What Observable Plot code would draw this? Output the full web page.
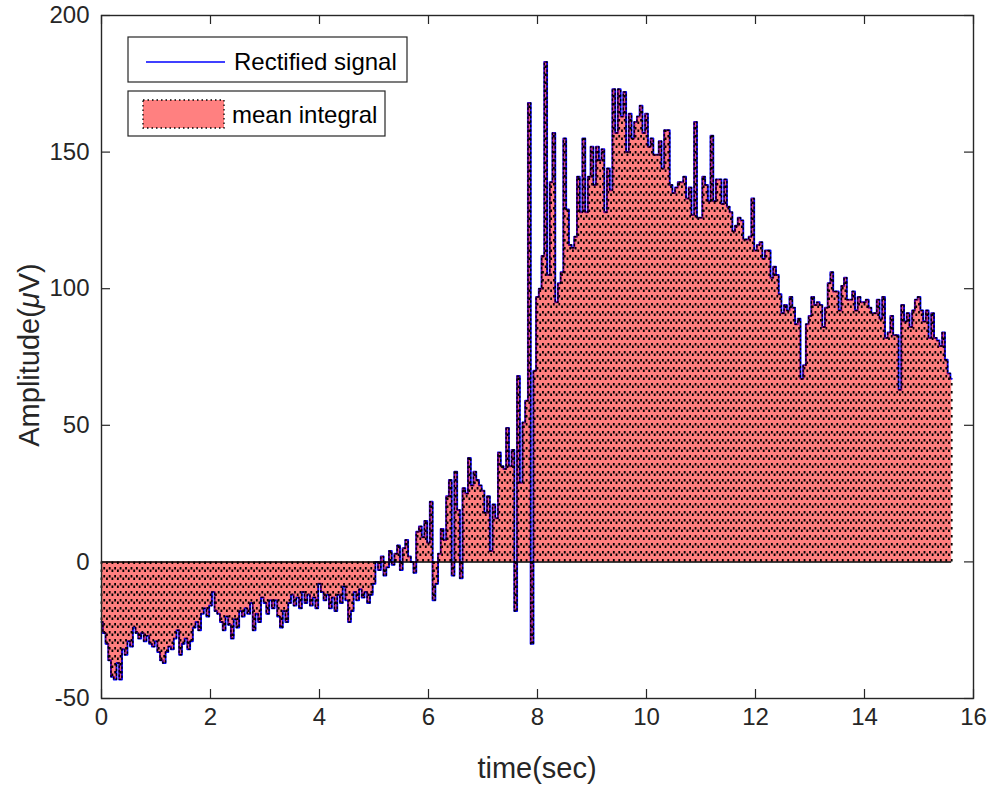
<!DOCTYPE html>
<html><head><meta charset="utf-8">
<script src="https://cdn.jsdelivr.net/npm/d3@7"></script>
<script src="https://cdn.jsdelivr.net/npm/@observablehq/plot@0.6"></script>
<style>body{margin:0;background:#fff}</style>
</head><body><div id="chart"></div>
<script>
// Sampling step of the rectified EMG signal (seconds)
const dt = 0.05;
// Amplitude (µV), one row per second of recording
const amp0  = [-22,-26,-30,-36,-42,-43,-37,-43,-32,-34,-29,-31,-24,-26,-28,-26,-29,-27,-30,-31];
const amp1  = [-29,-33,-36,-37,-33,-31,-32,-28,-25,-34,-30,-28,-32,-29,-24,-22,-25,-19,-17,-20];
const amp2  = [-16,-11,-18,-19,-22,-25,-20,-23,-28,-21,-24,-18,-20,-17,-19,-15,-25,-19,-22,-13];
const amp3  = [-15,-19,-14,-17,-14,-20,-24,-18,-22,-15,-12,-16,-13,-17,-11,-15,-12,-16,-13,-17];
const amp4  = [-8,-11,-14,-12,-17,-13,-18,-12,-15,-9,-14,-22,-18,-11,-14,-10,-13,-11,-15,-12];
const amp5  = [-8,0,-3,2,-5,-2,4,-1,3,6,-3,5,8,2,0,-4,11,13,9,15];
const amp6  = [7,22,-14,-8,3,12,8,24,30,-5,33,19,-6,27,25,38,28,33,30,28];
const amp7  = [26,18,24,4,21,16,40,35,34,49,35,41,-18,68,29,51,59,168,-30,70];
const amp8  = [97,100,112,183,105,139,157,95,102,106,155,129,116,115,119,141,128,155,128,141];
const amp9  = [152,138,152,147,151,128,144,136,173,157,173,163,172,150,164,155,161,163,167,157];
const amp10 = [164,152,155,149,149,154,144,158,158,138,135,137,139,139,141,133,137,127,161,126];
const amp11 = [126,141,138,132,156,132,140,140,131,140,130,128,121,123,126,125,118,118,119,133];
const amp12 = [114,116,117,111,114,114,104,108,105,98,91,94,92,97,93,87,89,67,72,87];
const amp13 = [90,97,94,95,94,86,93,102,106,99,99,92,101,104,96,96,99,92,97,95];
const amp14 = [95,96,93,91,91,96,89,97,82,84,90,83,83,63,94,88,91,86,92,96];
const amp15 = [97,92,88,92,82,91,82,81,79,84,74,69,67];

const xTicks = [0,2,4,6,8,10,12,14,16];
const yTicks = [-50,0,50,100,150,200];
const legendLabels = ["Rectified signal", "mean integral"];
const xLabel = "time(sec)";

const amplitude = [].concat(amp0,amp1,amp2,amp3,amp4,amp5,amp6,amp7,amp8,amp9,amp10,amp11,amp12,amp13,amp14,amp15);
const time = amplitude.map((_, i) => +(i * dt).toFixed(2));
const data = time.map((t, i) => ({t, v: amplitude[i], k: i}));

const W = 987, H = 787, mT = 15, mR = 14, mB = 89, mL = 101;
const pw = W - mL - mR, ph = H - mT - mB;
const ink = "#262626";

const chart = Plot.plot({
  width: W, height: H,
  marginTop: mT, marginRight: mR, marginBottom: mB, marginLeft: mL,
  x: {domain: [0, 16]},
  y: {domain: [-50, 200]},
  style: {fontFamily: "'Liberation Sans', Arial, sans-serif", fontSize: "24px", color: ink, background: "white"},
  marks: [
    Plot.lineY(data, {x: "t", y: "v", stroke: "#0000ff", strokeWidth: 2, curve: "step"}),
    Plot.areaY(data, {x: "t", y1: 0, y2: "v", fill: "#ff0000", fillOpacity: 0.5, curve: "step"}),
    Plot.ruleX(data, {filter: d => d.k % 2 === 0, x: "t", y1: 0, y2: "v", stroke: "#000", strokeWidth: 1.8, strokeDasharray: "2.5,5.5"}),
    Plot.ruleX(data, {filter: d => d.k % 2 === 1, x: "t", y1: 0, y2: "v", stroke: "#000", strokeWidth: 1.8, strokeDasharray: "2.5,5.5", strokeDashoffset: 2.5}),
    Plot.lineY(data, {x: "t", y: "v", stroke: "#000", strokeWidth: 1.4, strokeDasharray: "1.5,3", curve: "step"}),
    Plot.ruleY([0], {x1: time[0], x2: time[time.length - 1], stroke: "#000", strokeWidth: 1.5}),
    Plot.frame({stroke: ink, strokeWidth: 1.4}),
    Plot.tickX(xTicks, {x: d => d, stroke: ink, strokeWidth: 1.2, insetTop: ph - 9}),
    Plot.tickX(xTicks, {x: d => d, stroke: ink, strokeWidth: 1.2, insetBottom: ph - 9}),
    Plot.tickY(yTicks, {y: d => d, stroke: ink, strokeWidth: 1.2, insetRight: pw - 9}),
    Plot.tickY(yTicks, {y: d => d, stroke: ink, strokeWidth: 1.2, insetLeft: pw - 9}),
    Plot.axisX({ticks: xTicks, tickSize: 0, tickPadding: 9, label: null, fontSize: 24, fill: ink, tickFormat: d => String(d)}),
    Plot.axisY({ticks: yTicks, tickSize: 0, tickPadding: 12, label: null, fontSize: 24, fill: ink, tickFormat: d => String(d)})
  ]
});

document.getElementById("chart").appendChild(chart);
const svg = d3.select(chart);

// axis titles
svg.append("text").attr("x", mL + pw / 2).attr("y", 778).attr("text-anchor", "middle")
  .attr("font-size", 29).attr("fill", ink).text(xLabel);
const yl = svg.append("text").attr("transform", "translate(39,355) rotate(-90)")
  .attr("text-anchor", "middle").attr("font-size", 29).attr("fill", ink);
yl.append("tspan").text("Amplitude(");
yl.append("tspan").attr("font-style", "italic").text("\u03bc");
yl.append("tspan").text("V)");

// legend
const lg = svg.append("g").attr("text-anchor", "start");
lg.append("rect").attr("x", 128).attr("y", 37).attr("width", 279).attr("height", 45)
  .attr("fill", "white").attr("stroke", ink).attr("stroke-width", 1.2);
lg.append("line").attr("x1", 146).attr("x2", 225).attr("y1", 62).attr("y2", 62)
  .attr("stroke", "#0000ff").attr("stroke-width", 1.6);
lg.append("text").attr("x", 234).attr("y", 70).attr("font-size", 24).attr("fill", "#000").attr("text-anchor", "start").text(legendLabels[0]);
lg.append("rect").attr("x", 128).attr("y", 91).attr("width", 257).attr("height", 45)
  .attr("fill", "white").attr("stroke", ink).attr("stroke-width", 1.2);
lg.append("rect").attr("x", 143).attr("y", 100).attr("width", 81).attr("height", 28)
  .attr("fill", "#ff8080").attr("stroke", "#000").attr("stroke-width", 1.3).attr("stroke-dasharray", "1.5,3");
lg.append("text").attr("x", 232).attr("y", 123).attr("font-size", 24).attr("fill", "#000").attr("text-anchor", "start").text(legendLabels[1]);
</script>
</body></html>
